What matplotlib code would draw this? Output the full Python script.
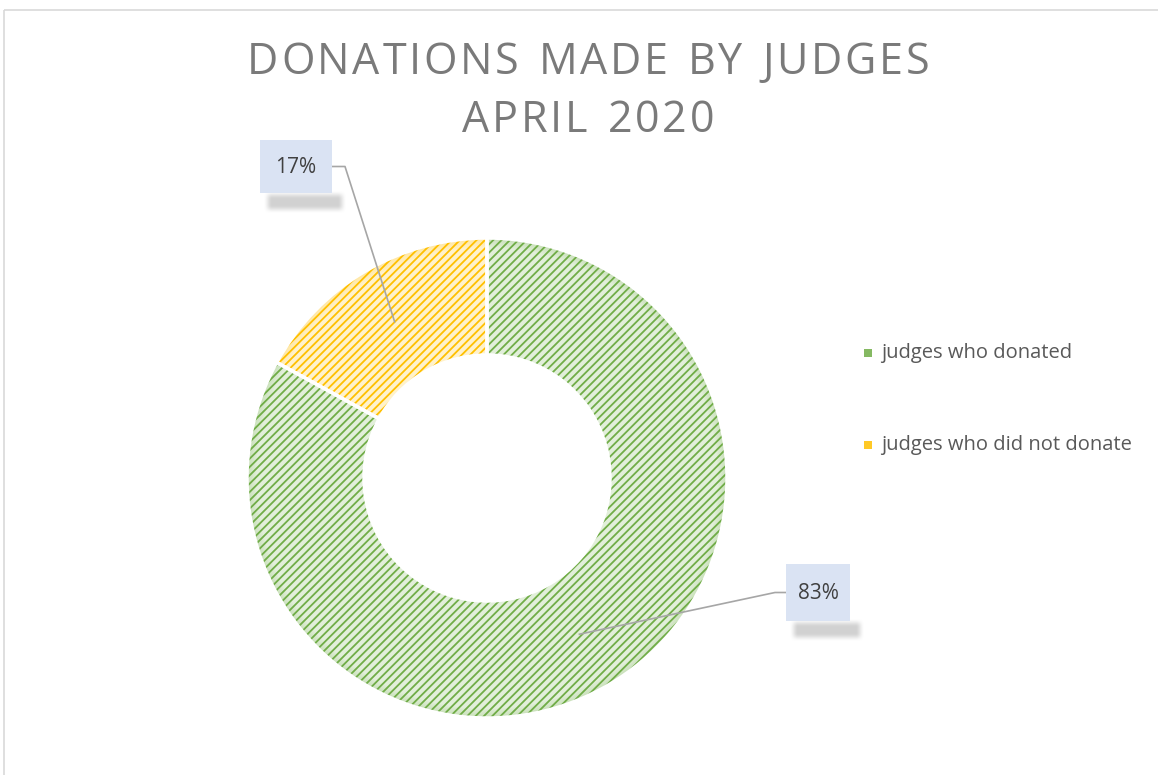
import numpy as np
import matplotlib
matplotlib.use('Agg')
import matplotlib.pyplot as plt
from matplotlib.patches import Rectangle, Wedge

## chart data
categories = ['judges who donated', 'judges who did not donate']
shares = [83, 17]
face_colors = ['#E2EFDA', '#FFF2CC']
hatch_colors = ['#70AD47', '#FFC000']
title_lines = ['DONATIONS MADE BY JUDGES', 'APRIL 2020']

plt.rcParams['font.family'] = ['Open Sans', 'DejaVu Sans']
plt.rcParams['hatch.linewidth'] = 1.3

W, H = 1158, 775
fig = plt.figure(figsize=(W / 100, H / 100), dpi=100)
## one axes in pixel units, y going down like the page
ax = fig.add_axes([0, 0, 1, 1])
ax.set_xlim(0, W)
ax.set_ylim(H, 0)
ax.axis('off')
renderer = fig.canvas.get_renderer()


def char_widths(s, size):
    out = []
    for ch in s:
        t = ax.text(0, 0, ch if ch != ' ' else 'n', fontsize=size)
        wpx = t.get_window_extent(renderer).width
        t.remove()
        out.append(wpx * (0.55 if ch == ' ' else 1.0))
    return out


def spaced_text(x_center, y, s, size, tracking, **kw):
    ws = char_widths(s, size)
    total = sum(ws) + tracking * (len(s) - 1)
    x = x_center - total / 2
    for ch, wpx in zip(s, ws):
        ax.text(x, y, ch, ha='left', va='center', fontsize=size, **kw)
        x += wpx + tracking


def soft_shadow(x0, y0, x1, y1, blur, peak):
    # grey block, full strength inside (x0..x1, y0..y1), fading out over blur px
    xs = np.arange(x0 - blur, x1 + blur + 1)
    ys = np.arange(y0 - blur, y1 + blur + 1)
    fx = np.clip(np.minimum(xs - (x0 - blur), (x1 + blur) - xs) / blur, 0, 1)
    fy = np.clip(np.minimum(ys - (y0 - blur), (y1 + blur) - ys) / blur, 0, 1)
    fx = fx * fx * (3 - 2 * fx)
    fy = fy * fy * (3 - 2 * fy)
    img = np.zeros((len(ys), len(xs), 4))
    img[..., :3] = 0.5
    img[..., 3] = np.outer(fy, fx) * peak
    ax.imshow(img, extent=(x0 - blur, x1 + blur, y1 + blur, y0 - blur),
              interpolation='bilinear', zorder=4, aspect='auto')


## outer frame of the chart area
ax.add_patch(Rectangle((3.5, 9.5), W + 20, H + 20, fill=False, edgecolor='#D9D9D9', linewidth=1.2))

## title with wide letter spacing
title_size = 31
base = char_widths(title_lines[0], title_size)
track = (682 - sum(base)) / (len(title_lines[0]) - 1)
spaced_text(588, 63, title_lines[0], title_size, track, color='#7A7A7A')
spaced_text(588, 121, title_lines[1], title_size, track, color='#7A7A7A')

cx, cy = 487, 478
r_out, r_in = 240, 123
ring = r_out - r_in

## base wedges, hatch layer on top, then white separators
wedges, _ = ax.pie(shares, colors=face_colors, startangle=270, counterclock=True,
                   center=(cx, cy), radius=r_out, frame=True,
                   wedgeprops=dict(width=ring, edgecolor='white', linewidth=0))
hatched, _ = ax.pie(shares, startangle=270, counterclock=True,
                    center=(cx, cy), radius=r_out, frame=True,
                    wedgeprops=dict(width=ring, facecolor='none', linewidth=0, hatch='////'))
for w, hc in zip(hatched, hatch_colors):
    w.set_edgecolor(hc)
    w.set_linewidth(0)
    # slightly darker rim along the outer edge
    for k in range(6):
        ax.add_patch(Wedge((cx, cy), r_out - k * 1.5, w.theta1, w.theta2, width=1.5,
                           facecolor=hc, edgecolor='none', alpha=0.22 - k * 0.035, zorder=2))
seps, _ = ax.pie(shares, startangle=270, counterclock=True,
                 center=(cx, cy), radius=r_out, frame=True,
                 wedgeprops=dict(width=ring, facecolor='none', edgecolor='white', linewidth=2.5))
for s in seps:
    s.set_zorder(3)
ax.set_xlim(0, W)
ax.set_ylim(H, 0)
ax.axis('off')

## value labels with leader lines
boxes = [(786, 564, 64, 57), (260, 140, 72, 53)]
r_mid = (r_out + r_in) / 2
for w, val, (bx, by, bw, bh) in zip(wedges, shares, boxes):
    ang = np.deg2rad((w.theta1 + w.theta2) / 2)
    px = cx + r_mid * np.cos(ang)
    py = cy + r_mid * np.sin(ang)
    ly = by + bh / 2
    if bx > cx:
        ax.plot([px, bx - 11, bx], [py, ly, ly], color='#A6A6A6', linewidth=1.2, zorder=3)
    else:
        ax.plot([px, bx + bw + 13, bx + bw], [py, ly, ly], color='#A6A6A6', linewidth=1.2, zorder=3)
    soft_shadow(bx + 12, by + bh + 6, bx + bw + 6, by + bh + 12, 9, 0.36)
    ax.add_patch(Rectangle((bx, by), bw, bh, facecolor='#DAE3F3', edgecolor='none', zorder=5))
    ax.text(bx + bw / 2, by + bh / 2 + 1, f'{val}%', ha='center', va='center',
            fontsize=15, color='#404040', zorder=6)

## legend
for i, (name, fc, hc) in enumerate(zip(categories, face_colors, hatch_colors)):
    ly = 353 + i * 92
    ax.add_patch(Rectangle((864, ly - 4), 8, 8, facecolor=hc, edgecolor='none', alpha=0.85))
    ax.text(881, ly, name, ha='left', va='center', fontsize=14.5, color='#595959')

ax.set_xlim(0, W)
ax.set_ylim(H, 0)
fig.savefig('out.png', dpi=100)
